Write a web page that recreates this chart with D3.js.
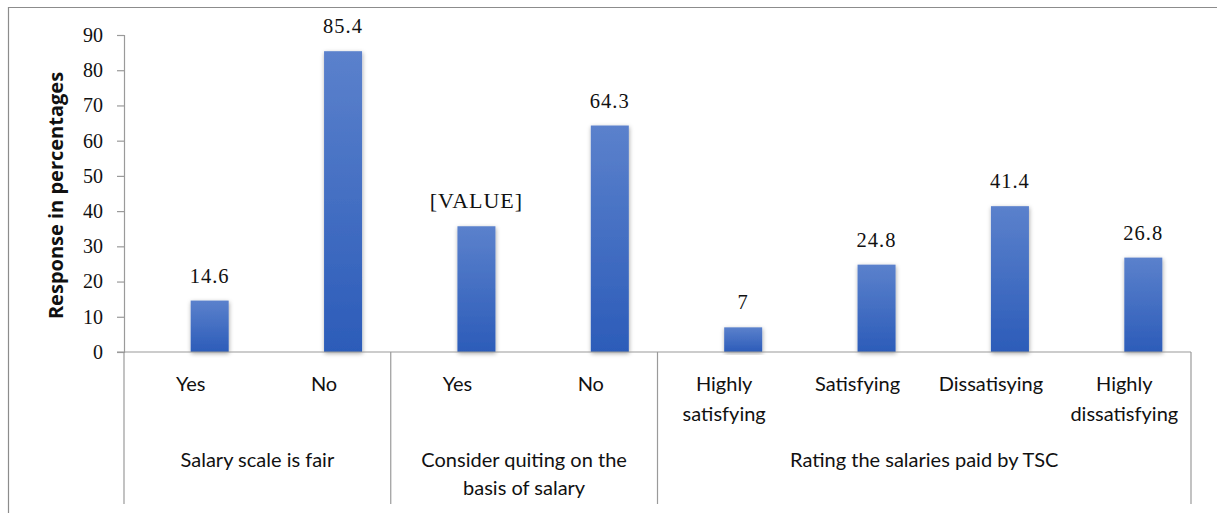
<!DOCTYPE html>
<html>
<head>
<meta charset="utf-8">
<script src="https://cdn.jsdelivr.net/npm/d3@7"></script>
<style>
  html, body { margin: 0; padding: 0; background: #fff; }
  svg { display: block; }
</style>
</head>
<body>
<svg id="chart" width="1217" height="513"></svg>
<script>
// Survey responses on salary (percent)
const groups = ["Salary scale is fair", "Consider quiting on the\nbasis of salary", "Rating the salaries paid by TSC"];
const categories = ["Yes", "No", "Yes", "No", "Highly\nsatisfying", "Satisfying", "Dissatisying", "Highly\ndissatisfying"];
const groupIndex = [0, 0, 1, 1, 2, 2, 2, 2];
const values = [14.6, 85.4, 35.7, 64.3, 7, 24.8, 41.4, 26.8];
const valueLabels = ["14.6", "85.4", "[VALUE]", "64.3", "7", "24.8", "41.4", "26.8"];
const yTicks = [0, 10, 20, 30, 40, 50, 60, 70, 80, 90];
const yTitle = "Response in percentages";

const svg = d3.select("#chart");
const W = 1217, H = 513;
const plot = { left: 124, right: 1191, top: 35, bottom: 352 };

// Outer chart frame
svg.append("path")
  .attr("d", `M8.5,${H} V7.5 H${W}`)
  .attr("fill", "none").attr("stroke", "#8c8c8c").attr("stroke-width", 1.2);

const defs = svg.append("defs");
const grad = defs.append("linearGradient").attr("id", "barFill")
  .attr("x1", 0).attr("y1", 0).attr("x2", 0).attr("y2", 1);
grad.append("stop").attr("offset", "0%").attr("stop-color", "#5b81cc");
grad.append("stop").attr("offset", "100%").attr("stop-color", "#2c5cb9");

const shadow = defs.append("filter").attr("id", "barShadow")
  .attr("x", "-40%").attr("y", "-10%").attr("width", "180%").attr("height", "120%");
shadow.append("feDropShadow").attr("dx", 0.5).attr("dy", 1.5)
  .attr("stdDeviation", 2).attr("flood-color", "#000").attr("flood-opacity", 0.35);

const x = d3.scaleBand().domain(d3.range(categories.length))
  .range([plot.left, plot.right]).padding(0);
// two slots per category (clustered layout); the bar sits in the second one
const slot = d3.scaleBand().domain([0, 1]).range([0, x.bandwidth()])
  .paddingInner(0).paddingOuter(0.755);
const y = d3.scaleLinear().domain([0, 90]).range([plot.bottom, plot.top]);

// Bars
svg.append("g").selectAll("rect")
  .data(values)
  .join("rect")
  .attr("x", (d, i) => x(i) + slot(1))
  .attr("width", slot.bandwidth())
  .attr("y", d => y(d))
  .attr("height", d => y(0) - y(d))
  .attr("fill", "url(#barFill)")
  .attr("filter", "url(#barShadow)");

// Y axis
const yAxis = d3.axisLeft(y).tickValues(yTicks).tickSize(7).tickPadding(14);
const gy = svg.append("g").attr("transform", `translate(${plot.left},0)`).call(yAxis);
gy.select(".domain").attr("stroke", "#9a9a9a").attr("stroke-width", 1.2);
gy.selectAll(".tick line").attr("stroke", "#9a9a9a").attr("stroke-width", 1.2);
gy.selectAll(".tick text")
  .attr("font-family", "'Liberation Serif', serif").attr("font-size", 20).attr("fill", "#111");

// Baseline (category axis)
svg.append("line")
  .attr("x1", plot.left - 7).attr("x2", plot.right)
  .attr("y1", y(0)).attr("y2", y(0))
  .attr("stroke", "#9a9a9a").attr("stroke-width", 1.2);

// Group separators
const groupBounds = [];
groups.forEach((g, gi) => {
  const idx = groupIndex.map((v, i) => v === gi ? i : -1).filter(i => i >= 0);
  groupBounds.push({ label: g, x0: x(idx[0]), x1: x(idx[idx.length - 1]) + x.bandwidth() });
});
const sepX = [groupBounds[0].x0, ...groupBounds.map(b => b.x1)];
svg.append("g").selectAll("line").data(sepX).join("line")
  .attr("x1", d => d).attr("x2", d => d)
  .attr("y1", y(0)).attr("y2", 504)
  .attr("stroke", "#9a9a9a").attr("stroke-width", 1.2);

const sans = "Lato, 'Open Sans', sans-serif";

// Category labels
const catG = svg.append("g");
categories.forEach((c, i) => {
  const cx = x(i) + x.bandwidth() / 2;
  const t = catG.append("text")
    .attr("x", cx).attr("y", 391)
    .attr("text-anchor", "middle")
    .attr("font-family", sans).attr("font-size", 20).attr("fill", "#111");
  c.split("\n").forEach((line, li) => {
    t.append("tspan").attr("x", cx).attr("dy", li ? 30 : 0).text(line);
  });
});

// Group labels
const grpG = svg.append("g");
groupBounds.forEach(b => {
  const cx = (b.x0 + b.x1) / 2;
  const t = grpG.append("text")
    .attr("x", cx).attr("y", 467)
    .attr("text-anchor", "middle")
    .attr("font-family", sans).attr("font-size", 20).attr("fill", "#111");
  b.label.split("\n").forEach((line, li) => {
    t.append("tspan").attr("x", cx).attr("dy", li ? 28 : 0).text(line);
  });
});

// Value labels
svg.append("g").selectAll("text")
  .data(values)
  .join("text")
  .attr("x", (d, i) => x(i) + slot(1) + slot.bandwidth() / 2)
  .attr("y", d => y(d) - 18)
  .attr("text-anchor", "middle")
  .attr("font-family", "'Liberation Serif', serif")
  .attr("font-size", (d, i) => valueLabels[i].startsWith("[") ? 22 : 20.5)
  .attr("letter-spacing", 1)
  .attr("fill", "#111")
  .text((d, i) => valueLabels[i]);

// Y axis title
svg.append("text")
  .attr("transform", `translate(63,${(plot.top + plot.bottom) / 2 + 2}) rotate(-90)`)
  .attr("text-anchor", "middle")
  .attr("font-family", "'Open Sans', sans-serif").attr("font-weight", "bold").attr("font-size", 20)
  .attr("fill", "#111")
  .text(yTitle);
</script>
</body>
</html>
